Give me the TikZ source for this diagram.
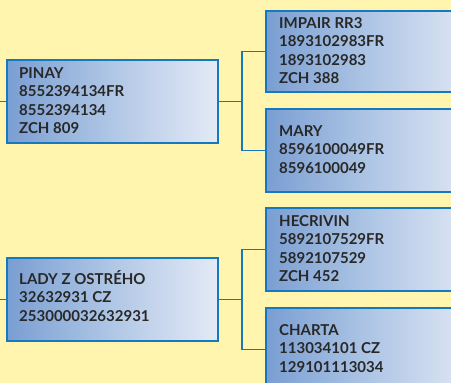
\documentclass[tikz,border=0pt]{standalone}
\usepackage{fontspec}
\setmainfont{Lato}
\definecolor{bgyellow}{RGB}{255,245,175}
\definecolor{lineblue}{RGB}{22,120,190}
\definecolor{txtgray}{RGB}{40,40,40}
\definecolor{shA}{RGB}{122,158,210}
\definecolor{shB}{RGB}{172,196,228}
\definecolor{shC}{RGB}{228,234,246}
\pgfdeclarehorizontalshading{boxshade}{100bp}{color(0bp)=(shA); color(25bp)=(shA); color(48bp)=(shB); color(75bp)=(shC); color(100bp)=(shC)}
\begin{document}
\begin{tikzpicture}[x=1pt,y=-1pt,
  box/.style={draw=lineblue, line width=1.2pt, shading=boxshade, minimum height=83pt, inner sep=0pt, outer sep=0pt, anchor=north west},
  lbox/.style={box, minimum width=211pt},
  rbox/.style={box, minimum width=215pt},
  txt/.style={anchor=base west, align=left, inner sep=0pt, text=txtgray, font=\bfseries\fontsize{15}{18.6}\selectfont},
  conn/.style={draw=lineblue, line width=1.2pt}]
\useasboundingbox (0,0) rectangle (451,383);
\clip (0,0) rectangle (451,383);
\fill[bgyellow] (0,0) rectangle (451,383);
% boxes
\node[lbox] (pinay) at (7,60) {};
\node[lbox] (lady) at (7,258) {};
\node[rbox, minimum height=81pt] (impair) at (266,11) {};
\node[rbox] (mary) at (266,109) {};
\node[rbox] (hecrivin) at (266,208) {};
\node[rbox] (charta) at (266,308) {};
% texts (anchor = baseline of last line)
\node[txt] (pinayT) at (19,133.8) {PINAY\\8552394134FR\\8552394134\\ZCH 809};
\node[txt] (ladyT) at (19,321.2) {LADY Z OSTRÉHO\\32632931 CZ\\253000032632931};
\node[txt] (impairT) at (279,83.8) {IMPAIR RR3\\1893102983FR\\1893102983\\ZCH 388};
\node[txt] (maryT) at (279,173.2) {MARY\\8596100049FR\\8596100049};
\node[txt] (hecrivinT) at (279,281.8) {HECRIVIN\\5892107529FR\\5892107529\\ZCH 452};
\node[txt] (chartaT) at (279,372.2) {CHARTA\\113034101 CZ\\129101113034};
% connectors
\coordinate (l1) at (0,101.5);
\coordinate (l2) at (0,299.5);
\coordinate (j1) at (242,101.5);
\coordinate (j2) at (242,299.5);
\draw[conn] (l1) -- (pinay.west);
\draw[conn] (l2) -- (lady.west);
\draw[conn] (pinay.east) -- (j1);
\draw[conn] (lady.east) -- (j2);
\draw[conn] (impair.west) -| (j1) |- (mary.west);
\draw[conn] (hecrivin.west) -| (j2) |- (charta.west);
\end{tikzpicture}
\end{document}
